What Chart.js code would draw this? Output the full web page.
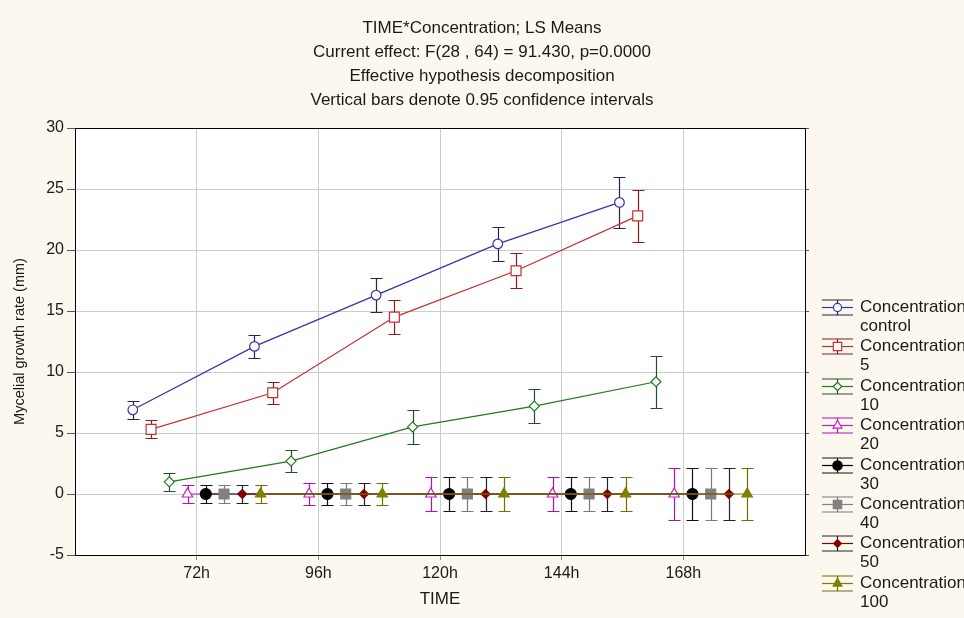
<!DOCTYPE html>
<html>
<head>
<meta charset="utf-8">
<title>TIME*Concentration; LS Means</title>
<script src="https://cdn.jsdelivr.net/npm/chart.js@4.4.1/dist/chart.umd.min.js"></script>
<style>
  html, body { margin: 0; padding: 0; background: #fcf8ef; }
  #wrap { width: 964px; height: 618px; }
</style>
</head>
<body>
<div id="wrap"><canvas id="lsChart"></canvas></div>
<script>
const timeLabels = ['72h', '96h', '120h', '144h', '168h'];
const groupNames = ['control', '5', '10', '20', '30', '40', '50', '100'];

// LS means of mycelial growth (mm) for each concentration, by time
const meanControl = [6.9, 12.1, 16.3, 20.5, 23.9];
const mean5 = [5.3, 8.3, 14.5, 18.3, 22.8];
const mean10 = [1.0, 2.7, 5.5, 7.2, 9.2];
const mean20 = [0, 0, 0, 0, 0];
const mean30 = [0, 0, 0, 0, 0];
const mean40 = [0, 0, 0, 0, 0];
const mean50 = [0, 0, 0, 0, 0];
const mean100 = [0, 0, 0, 0, 0];

// half width of the 0.95 confidence interval (pooled error, same for every group)
const ciHalf = [0.75, 0.92, 1.38, 1.42, 2.12];

const yTicks = [-5, 0, 5, 10, 15, 20, 25, 30];

const series = [meanControl, mean5, mean10, mean20, mean30, mean40, mean50, mean100];

// look of each group: line colour, error bar colour, marker
const looks = [
  { line: '#3434a6', bar: '#25254a', shape: 'circle',   r: 4.8, fill: '#ffffff' },
  { line: '#c03232', bar: '#8a1c1c', shape: 'rect',     r: 7,   fill: '#ffffff' },
  { line: '#1f7a1f', bar: '#2e4a2e', shape: 'rectRot',  r: 5,   fill: '#ffffff' },
  { line: '#c81ec8', bar: '#b010b0', shape: 'triangle', r: 6,   fill: '#ffffff' },
  { line: '#000000', bar: '#111111', shape: 'circle',   r: 5.5, fill: '#000000' },
  { line: '#808080', bar: '#7a7a7a', shape: 'rect',     r: 7,   fill: '#808080' },
  { line: '#800000', bar: '#222222', shape: 'rectRot',  r: 4.5, fill: '#800000' },
  { line: '#7f7f00', bar: '#6f6f00', shape: 'triangle', r: 6,   fill: '#7f7f00' }
];

// groups are spread side by side around each time point
const dodge = 0.15;

const datasets = series.map((vals, g) => {
  const lk = looks[g];
  const off = (g - (series.length - 1) / 2) * dodge;
  return {
    label: 'Concentration ' + groupNames[g],
    data: vals.map((v, i) => ({ x: i + 1 + off, y: v })),
    ci: ciHalf,
    barColor: lk.bar,
    borderColor: lk.line,
    borderWidth: 1.2,
    pointStyle: lk.shape,
    pointRadius: lk.r,
    pointBorderColor: lk.line,
    pointBackgroundColor: lk.fill,
    pointBorderWidth: 1.2,
    tension: 0,
    order: series.length - g   // later groups end up on top
  };
});

const FONT = "'Liberation Sans', Arial, sans-serif";

const paper = {
  id: 'paper',
  beforeDraw(chart) {
    const { ctx, chartArea: a } = chart;
    ctx.save();
    ctx.fillStyle = '#fcf8ef';
    ctx.fillRect(0, 0, chart.width, chart.height);
    ctx.fillStyle = '#ffffff';
    ctx.fillRect(a.left, a.top, a.right - a.left, a.bottom - a.top);
    ctx.restore();
  },
  afterDraw(chart) {
    const { ctx, chartArea: a } = chart;
    ctx.save();
    ctx.strokeStyle = '#000';
    ctx.lineWidth = 1;
    ctx.strokeRect(Math.round(a.left) + 0.5, Math.round(a.top) + 0.5,
      Math.round(a.right - a.left), Math.round(a.bottom - a.top));
    ctx.restore();
  }
};

function capBar(ctx, px, top, bot, half) {
  ctx.beginPath();
  ctx.moveTo(px, top); ctx.lineTo(px, bot);
  ctx.moveTo(px - half, top); ctx.lineTo(px + half, top);
  ctx.moveTo(px - half, bot); ctx.lineTo(px + half, bot);
  ctx.stroke();
}

const errorBars = {
  id: 'errorBars',
  beforeDatasetsDraw(chart) {
    const { ctx, scales: { x, y } } = chart;
    ctx.save();
    ctx.lineWidth = 1.2;
    chart.data.datasets.forEach(ds => {
      ctx.strokeStyle = ds.barColor;
      ds.data.forEach((p, i) => {
        const px = Math.round(x.getPixelForValue(p.x)) + 0.5;
        const top = Math.round(y.getPixelForValue(p.y + ds.ci[i])) + 0.5;
        const bot = Math.round(y.getPixelForValue(p.y - ds.ci[i])) + 0.5;
        capBar(ctx, px, top, bot, 6);
      });
    });
    ctx.restore();
  }
};

// legend box on the right: error bar symbol with marker, name on two lines
const sideLegend = {
  id: 'sideLegend',
  afterDraw(chart) {
    const { ctx } = chart;
    const x0 = 822, x1 = 853, cx = 837.5;
    ctx.save();
    ctx.font = '17px ' + FONT;
    ctx.textBaseline = 'middle';
    ctx.textAlign = 'left';
    chart.data.datasets.forEach((ds, g) => {
      const cy = Math.round(307 + g * 39.4) + 0.5;
      ctx.strokeStyle = ds.barColor;
      ctx.lineWidth = 1.2;
      ctx.beginPath();
      ctx.moveTo(x0, cy - 7.5); ctx.lineTo(x1, cy - 7.5);
      ctx.moveTo(x0, cy + 7.5); ctx.lineTo(x1, cy + 7.5);
      ctx.moveTo(cx, cy - 7.5); ctx.lineTo(cx, cy + 7.5);
      ctx.stroke();
      ctx.strokeStyle = ds.borderColor;
      ctx.beginPath();
      ctx.moveTo(x0, cy); ctx.lineTo(x1, cy);
      ctx.stroke();
      ctx.fillStyle = ds.pointBackgroundColor;
      ctx.strokeStyle = ds.pointBorderColor;
      Chart.helpers.drawPoint(ctx, { pointStyle: ds.pointStyle, radius: ds.pointRadius * 0.85, borderWidth: 1.2 }, cx, cy);
      ctx.fillStyle = '#1a1a1a';
      const parts = ds.label.split(' ');
      ctx.fillText(parts[0], 860, cy);
      ctx.fillText(parts[1], 860, cy + 19);
    });
    ctx.restore();
  }
};

new Chart(document.getElementById('lsChart'), {
  type: 'line',
  data: { datasets },
  options: {
    responsive: true,
    maintainAspectRatio: false,
    animation: false,
    layout: { padding: 0 },
    plugins: {
      legend: { display: false },
      tooltip: { enabled: false },
      title: {
        display: true,
        text: [
          'TIME*Concentration; LS Means',
          'Current effect: F(28 , 64) = 91.430, p=0.0000',
          'Effective hypothesis decomposition',
          'Vertical bars denote 0.95 confidence intervals'
        ],
        color: '#1a1a1a',
        font: { family: FONT, size: 17, weight: 'normal', lineHeight: '24px' },
        padding: { top: 16, bottom: 16 }
      }
    },
    scales: {
      x: {
        type: 'linear',
        min: 0,
        max: timeLabels.length + 1,
        afterBuildTicks(scale) {
          scale.ticks = timeLabels.map((t, i) => ({ value: i + 1 }));
        },
        ticks: {
          callback: v => timeLabels[v - 1] || '',
          color: '#1a1a1a',
          font: { family: FONT, size: 16 },
          padding: 4,
          maxRotation: 0
        },
        grid: { color: '#cccccc', tickColor: '#888', tickLength: 5, lineWidth: 1 },
        border: { display: false },
        title: {
          display: true,
          text: 'TIME',
          color: '#1a1a1a',
          font: { family: FONT, size: 17 },
          padding: { top: 0, bottom: 8 }
        },
        afterFit(scale) { scale.height = 63; }
      },
      y: {
        min: -5,
        max: 30,
        afterBuildTicks(scale) {
          scale.ticks = yTicks.map(v => ({ value: v }));
        },
        ticks: {
          color: '#1a1a1a',
          font: { family: FONT, size: 16 },
          padding: 3
        },
        grid: { color: '#cccccc', tickColor: '#555', tickLength: 8, lineWidth: 1 },
        border: { display: false },
        title: {
          display: true,
          text: 'Mycelial growth rate (mm)',
          color: '#1a1a1a',
          font: { family: FONT, size: 14.5 },
          padding: { top: 11, bottom: 0 }
        },
        afterFit(scale) { scale.width = 75; }
      },
      yRight: {
        position: 'right',
        min: -5,
        max: 30,
        afterBuildTicks(scale) {
          scale.ticks = yTicks.map(v => ({ value: v }));
        },
        ticks: { display: false },
        grid: { drawOnChartArea: false, tickColor: '#555', tickLength: 4 },
        border: { display: false },
        afterFit(scale) { scale.width = 159; }
      }
    }
  },
  plugins: [paper, errorBars, sideLegend]
});
</script>
</body>
</html>
